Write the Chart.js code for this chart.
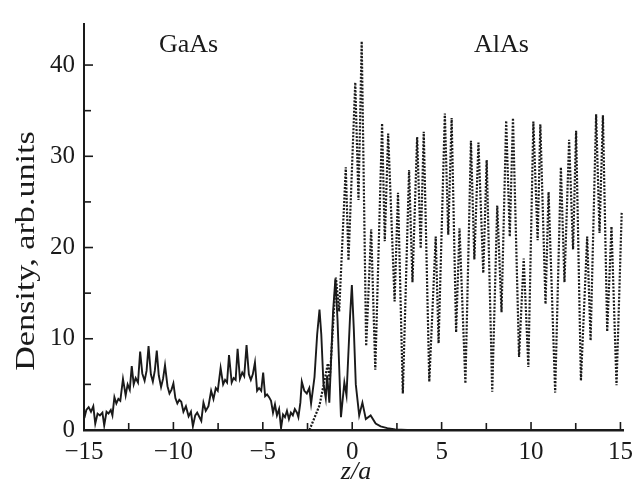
<!DOCTYPE html>
<html><head><meta charset="utf-8">
<script src="https://cdn.jsdelivr.net/npm/chart.js@4.4.0/dist/chart.umd.min.js"></script>
<style>html,body{margin:0;padding:0;background:#fff}#wrap{width:640px;height:494px}</style>
</head><body><div id="wrap"><canvas id="c" width="640" height="494"></canvas></div>
<script>
// GaAs-like state (solid line)
const solidZ=[-14.98,-14.87,-14.74,-14.61,-14.48,-14.37,-14.24,-14.11,-13.97,-13.87,-13.74,-13.63,-13.50,-13.41,-13.30,-13.19,-13.08,-12.97,-12.82,-12.67,-12.56,-12.44,-12.33,-12.22,-12.11,-11.98,-11.86,-11.74,-11.61,-11.50,-11.39,-11.26,-11.15,-11.04,-10.93,-10.82,-10.69,-10.58,-10.47,-10.33,-10.22,-10.11,-10.00,-9.89,-9.78,-9.67,-9.56,-9.44,-9.30,-9.15,-9.02,-8.91,-8.78,-8.67,-8.54,-8.44,-8.32,-8.19,-8.04,-7.89,-7.76,-7.63,-7.52,-7.36,-7.22,-7.11,-7.00,-6.89,-6.74,-6.63,-6.52,-6.41,-6.28,-6.15,-6.04,-5.91,-5.78,-5.67,-5.56,-5.44,-5.32,-5.21,-5.09,-4.98,-4.87,-4.76,-4.65,-4.54,-4.43,-4.32,-4.21,-4.09,-3.98,-3.87,-3.76,-3.65,-3.54,-3.43,-3.32,-3.21,-3.09,-3.01,-2.90,-2.82,-2.68,-2.54,-2.40,-2.30,-2.11,-1.96,-1.83,-1.73,-1.61,-1.48,-1.40,-1.28,-1.07,-0.94,-0.82,-0.63,-0.44,-0.32,-0.12,-0.02,0.09,0.20,0.39,0.57,0.76,1.03,1.31,1.59,1.96,2.41,3.07];
const solidY=[1.3,2.2,2.5,2.0,2.6,0.7,1.8,1.6,1.9,0.5,2.0,1.8,2.2,1.6,3.6,2.9,3.4,3.2,5.6,3.8,5.0,4.4,7.0,5.0,5.7,5.2,8.6,6.2,5.4,6.5,9.2,6.1,5.3,6.5,8.7,6.0,4.7,5.6,7.1,4.8,4.0,4.4,5.1,3.5,2.9,3.3,3.1,2.0,2.6,1.5,2.0,0.4,1.6,1.9,1.4,1.0,3.0,2.1,2.6,4.3,3.4,4.6,4.3,6.8,5.0,5.5,5.2,8.2,5.2,5.7,5.5,8.9,5.6,6.3,5.9,9.3,6.1,5.5,6.1,7.4,4.3,4.6,4.3,6.3,3.7,3.9,3.6,3.2,1.9,2.8,1.6,2.3,0.2,1.7,1.4,2.1,1.2,1.9,1.6,2.3,1.9,1.4,3.0,5.3,4.3,4.0,4.6,2.9,5.8,10.5,13.2,10.5,5.1,3.5,6.0,3.0,13.0,16.6,12.0,1.4,5.2,3.8,12.5,15.9,11.0,5.0,1.6,3.0,1.2,1.6,0.7,0.4,0.2,0.05,0];
// AlAs-like state (dotted line)
const dottedZ=[-2.39,-1.83,-1.36,-1.26,-0.91,-0.73,-0.36,-0.21,0.17,0.35,0.53,0.78,1.06,1.29,1.67,1.82,2.01,2.37,2.56,2.83,3.18,3.37,3.63,3.83,4.00,4.31,4.67,4.83,5.18,5.37,5.56,5.81,6.00,6.33,6.64,6.83,7.06,7.33,7.52,7.83,8.11,8.35,8.61,8.81,8.99,9.33,9.59,9.85,10.13,10.37,10.52,10.81,10.98,11.35,11.67,11.87,12.13,12.35,12.52,12.79,13.14,13.33,13.64,13.83,14.02,14.26,14.50,14.78,15.07];
const dottedY=[0,2.7,7.3,5.4,16.7,13.0,28.8,18.6,38.1,25.2,42.6,9.2,22.0,6.6,33.6,20.7,32.5,14.1,26.0,4.0,28.5,16.2,32.1,19.9,32.7,5.3,21.2,9.5,34.7,21.4,34.2,10.7,22.1,5.1,31.7,18.7,31.5,17.2,29.6,4.2,24.6,12.9,33.9,21.2,34.2,8.0,18.8,6.9,33.8,20.8,33.5,13.8,26.1,4.1,28.8,16.2,31.8,19.8,32.8,5.4,21.2,9.8,34.6,21.6,34.5,10.8,22.3,4.9,23.8];
const xMajorTicks=[-15,-10,-5,0,5,10,15];
const xMinorTicks=[-12.5,-7.5,-2.5,2.5,7.5,12.5];
const yMajorTicks=[0,10,20,30,40];
const yMinorTicks=[5,15,25,35];
const regionNames=['GaAs','AlAs'];
const regionZ=[-9.15,8.35];
const regionLevel=42.2;
const xTitle='z/a';
const yTitle='Density, arb.units';

const FONT='"Liberation Serif","Times New Roman",serif';
const INK='#1a1a1a';

const decor={
  id:'decor',
  afterDraw(chart){
    const {ctx,chartArea:a,scales:{x,y}}=chart;
    ctx.save();
    ctx.strokeStyle=INK; ctx.lineWidth=1.6;
    const tick=(list,len)=>{
      list.forEach(v=>{const p=x.getPixelForValue(v);ctx.beginPath();ctx.moveTo(p,a.bottom);ctx.lineTo(p,a.bottom-len);ctx.stroke();});
    };
    tick(xMajorTicks,8);tick(xMinorTicks,7);
    const ytick=(list,len)=>{
      list.forEach(v=>{const p=y.getPixelForValue(v);ctx.beginPath();ctx.moveTo(a.left,p);ctx.lineTo(a.left+len,p);ctx.stroke();});
    };
    ytick(yMajorTicks,9);ytick(yMinorTicks,7);
    ctx.fillStyle=INK;
    ctx.font='26px '+FONT;
    ctx.textAlign='center';ctx.textBaseline='middle';
    regionNames.forEach((t,i)=>ctx.fillText(t,x.getPixelForValue(regionZ[i]),y.getPixelForValue(regionLevel)));
    ctx.font='italic 26px '+FONT;
    ctx.textBaseline='alphabetic';
    ctx.fillText(xTitle,356,479);
    ctx.translate(34,251);ctx.rotate(-Math.PI/2);
    ctx.font='28px '+FONT;ctx.textBaseline='alphabetic';
    ctx.scale(1.22,1);
    ctx.fillText(yTitle,0,0);
    ctx.restore();
  }
};

const minus=v=>String(v).replace('-','\u2212');
new Chart(document.getElementById('c'),{
  type:'line',
  data:{datasets:[
    {label:'AlAs',data:dottedZ.map((z,i)=>({x:z,y:dottedY[i]})),borderColor:INK,borderWidth:2.2,borderDash:[2,1.5],pointRadius:0,tension:0,fill:false},
    {label:'GaAs',data:solidZ.map((z,i)=>({x:z,y:solidY[i]})),borderColor:INK,borderWidth:1.9,pointRadius:0,tension:0,fill:false}
  ]},
  options:{
    responsive:false,animation:false,devicePixelRatio:1,
    layout:{padding:{left:0,top:20,right:12,bottom:0}},
    plugins:{legend:{display:false},tooltip:{enabled:false}},
    scales:{
      x:{type:'linear',min:-15,max:15.15,
        grid:{display:false,drawTicks:false},
        border:{display:true,color:INK,width:2.5},
        ticks:{stepSize:5,includeBounds:false,padding:7,color:INK,font:{family:FONT,size:25},maxRotation:0,callback:v=>minus(v)},
        afterFit:s=>{s.height=64;}
      },
      y:{type:'linear',min:0,max:44.5,
        grid:{display:false,drawTicks:false},
        border:{display:true,color:INK,width:2},
        ticks:{stepSize:10,includeBounds:false,padding:9,color:INK,font:{family:FONT,size:25},callback:v=>minus(v)},
        afterFit:s=>{s.width=84;}
      }
    }
  },
  plugins:[decor]
});
</script></body></html>
